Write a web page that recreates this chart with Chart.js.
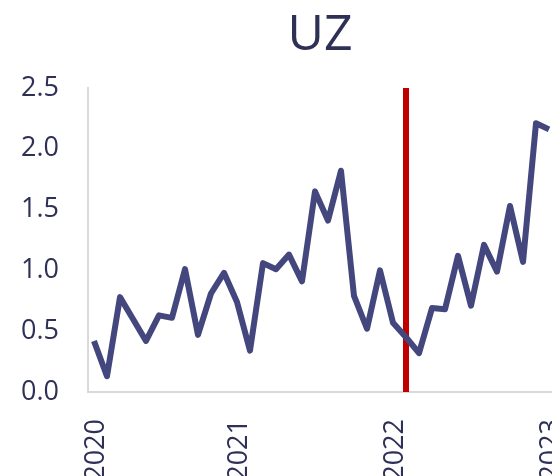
<!DOCTYPE html>
<html>
<head>
<meta charset="utf-8">
<script src="https://cdn.jsdelivr.net/npm/chart.js@4"></script>
<style>
  html, body { margin: 0; padding: 0; background: #fff; overflow: hidden; }
  #wrap { width: 552px; height: 476px; }
</style>
</head>
<body>
<div id="wrap"><canvas id="chart" width="552" height="476"></canvas></div>
<script>
// monthly values, Jan 2020 .. Dec 2022
const values = [0.42, 0.13, 0.78, 0.60, 0.42, 0.63, 0.61, 1.01, 0.47, 0.81, 0.98, 0.74,
                0.34, 1.06, 1.01, 1.13, 0.91, 1.65, 1.41, 1.82, 0.79, 0.52, 1.00, 0.57,
                0.45, 0.32, 0.69, 0.68, 1.12, 0.71, 1.21, 0.99, 1.53, 1.07, 2.21, 2.16];
const yearLabels = ['2020', '2021', '2022', '2023'];
const yearTickMonths = [0.2, 11.2, 23.2, 35.2];
const markerMonth = 24;
const yTicks = [0, 0.5, 1, 1.5, 2, 2.5];

const textColor = '#2e3056';
const font = { family: 'Open Sans', size: 27 };

const ctx = document.getElementById('chart').getContext('2d');
new Chart(ctx, {
  type: 'line',
  data: {
    datasets: [
      {
        data: values.map((v, i) => ({ x: i, y: v })),
        borderColor: '#44477d',
        borderWidth: 6,
        borderJoinStyle: 'round',
        pointRadius: 0,
        tension: 0,
      },
      {
        data: [{ x: markerMonth, y: yTicks[0] }, { x: markerMonth, y: yTicks[yTicks.length - 1] }],
        borderColor: '#c00000',
        borderWidth: 6,
        borderCapStyle: 'butt',
        pointRadius: 0,
      },
    ],
  },
  options: {
    responsive: false,
    animation: false,
    layout: { padding: { top: 6, left: 0, right: 0, bottom: 0 } },
    plugins: {
      legend: { display: false },
      tooltip: { enabled: false },
      title: {
        display: true,
        text: 'UZ',
        fullSize: false,
        color: textColor,
        font: { family: 'Open Sans', size: 50, weight: 'normal' },
        padding: { top: 0, bottom: 22 },
      },
    },
    scales: {
      x: {
        type: 'linear',
        min: -0.46,
        max: 35.23,
        grid: { display: false },
        border: { display: true, color: '#d9d9d9', width: 2 },
        afterBuildTicks: (scale) => {
          scale.ticks = yearTickMonths.map((m) => ({ value: m }));
        },
        ticks: {
          autoSkip: false,
          minRotation: 90,
          maxRotation: 90,
          padding: 19,
          color: textColor,
          font: font,
          callback: (val, i) => yearLabels[i],
        },
        afterFit: (scale) => {
          scale.height = 84;
          scale.paddingLeft = 0;
          scale.paddingRight = 0;
        },
      },
      y: {
        min: 0,
        max: 2.5,
        grid: { display: false },
        border: { display: true, color: '#d9d9d9', width: 2 },
        afterBuildTicks: (scale) => {
          scale.ticks = yTicks.map((v) => ({ value: v }));
        },
        ticks: {
          padding: 21,
          color: textColor,
          font: font,
          callback: (val) => Number(val).toFixed(1),
        },
        afterFit: (scale) => {
          scale.width = 88;
        },
      },
    },
  },
});
</script>
</body>
</html>
